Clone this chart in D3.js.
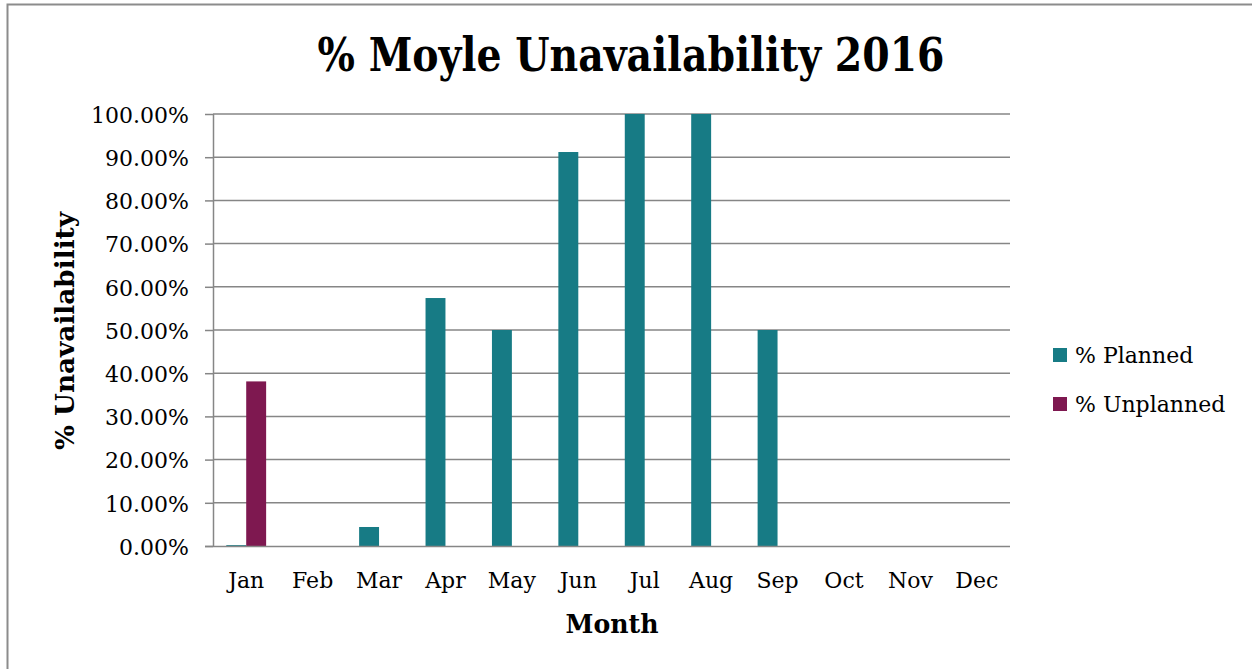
<!DOCTYPE html>
<html>
<head>
<meta charset="utf-8">
<script src="https://cdn.jsdelivr.net/npm/d3@7"></script>
<style>
  body { margin: 0; background: #fff; }
  svg text { font-family: "DejaVu Serif", "Liberation Serif", serif; fill: #000; }
</style>
</head>
<body>
<div id="chart"></div>
<script>
var months = ["Jan", "Feb", "Mar", "Apr", "May", "Jun", "Jul", "Aug", "Sep", "Oct", "Nov", "Dec"];
var planned = [0.2, 0, 4.4, 57.4, 50, 91.2, 100, 100, 50, 0, 0, 0];
var unplanned = [38.1, 0, 0, 0, 0, 0, 0, 0, 0, 0, 0, 0];
var seriesNames = ["% Planned", "% Unplanned"];
var seriesColors = ["#177b85", "#7e1850"];
var yTicks = [0, 10, 20, 30, 40, 50, 60, 70, 80, 90, 100];

function drawChart(selector) {
    var width = 1252, height = 669;

    var svg = d3.select(selector)
        .append("svg")
        .attr("width", width)
        .attr("height", height);

    // outer frame, right and bottom edges run off the page
    svg.append("rect")
        .attr("x", 7.5)
        .attr("y", 4.5)
        .attr("width", 1300)
        .attr("height", 700)
        .attr("fill", "none")
        .attr("stroke", "#8c8c8c")
        .attr("stroke-width", 2);

    var left = 213, right = 1010, top = 114, bottom = 546;

    var x = d3.scaleBand()
        .domain(months)
        .range([left, right])
        .paddingInner(0.4)
        .paddingOuter(0.2);

    var xs = d3.scaleBand()
        .domain(seriesNames)
        .range([0, x.bandwidth()]);

    var y = d3.scaleLinear()
        .domain([0, 100])
        .range([bottom, top]);

    // gridlines
    svg.append("g")
        .selectAll("line")
        .data(yTicks.slice(1))
        .enter().append("line")
        .attr("x1", left)
        .attr("x2", right)
        .attr("y1", function(d) { return y(d); })
        .attr("y2", function(d) { return y(d); })
        .attr("stroke", "#868686")
        .attr("stroke-width", 1.5);

    var data = months.map(function(m, i) {
        return { month: m, values: [planned[i], unplanned[i]] };
    });

    var groups = svg.append("g")
        .selectAll("g")
        .data(data)
        .enter().append("g")
        .attr("transform", function(d) { return "translate(" + x(d.month) + ",0)"; });

    groups.selectAll("rect")
        .data(function(d) {
            return d.values.map(function(v, j) { return { name: seriesNames[j], value: v, idx: j }; });
        })
        .enter().append("rect")
        .filter(function(d) { return d.value > 0; })
        .attr("x", function(d) { return xs(d.name); })
        .attr("y", function(d) { return y(d.value); })
        .attr("width", xs.bandwidth())
        .attr("height", function(d) { return bottom - y(d.value); })
        .attr("fill", function(d) { return seriesColors[d.idx]; });

    // y axis
    var yAxis = svg.append("g")
        .attr("transform", "translate(" + left + ",0)")
        .call(d3.axisLeft(y)
            .tickValues(yTicks)
            .tickSize(8)
            .tickPadding(16)
            .tickFormat(function(d) { return d.toFixed(2) + "%"; }));
    yAxis.select(".domain").attr("stroke", "#868686").attr("stroke-width", 1.5).attr("d", "M0.5," + top + "V" + bottom);
    yAxis.selectAll(".tick line").attr("stroke", "#868686").attr("stroke-width", 1.5);
    yAxis.selectAll(".tick text")
        .attr("font-size", 22)
        .attr("dy", "0.38em")
        .style("font-family", "DejaVu Serif");

    // x axis
    var xAxis = svg.append("g")
        .attr("transform", "translate(0," + bottom + ")")
        .call(d3.axisBottom(x).tickSize(0).tickPadding(26));
    xAxis.select(".domain").attr("stroke", "#868686").attr("stroke-width", 1.5).attr("d", "M" + (left - 8) + ",0.5H" + right);
    xAxis.selectAll(".tick text")
        .attr("font-size", 22)
        .style("font-family", "DejaVu Serif");

    // title
    svg.append("text")
        .attr("x", 631)
        .attr("y", 71)
        .attr("text-anchor", "middle")
        .attr("font-size", 46)
        .attr("font-weight", "bold")
        .attr("textLength", 627)
        .attr("lengthAdjust", "spacingAndGlyphs")
        .text("% Moyle Unavailability 2016");

    // axis titles
    svg.append("text")
        .attr("transform", "translate(74,331) rotate(-90)")
        .attr("text-anchor", "middle")
        .attr("font-size", 26)
        .attr("font-weight", "bold")
        .attr("textLength", 238)
        .attr("lengthAdjust", "spacingAndGlyphs")
        .text("% Unavailability");

    svg.append("text")
        .attr("x", 612)
        .attr("y", 633)
        .attr("text-anchor", "middle")
        .attr("font-size", 26)
        .attr("font-weight", "bold")
        .attr("textLength", 93)
        .attr("lengthAdjust", "spacingAndGlyphs")
        .text("Month");

    // legend
    var legend = svg.append("g")
        .selectAll("g")
        .data(seriesNames)
        .enter().append("g")
        .attr("transform", function(d, i) { return "translate(1053," + (348 + i * 49) + ")"; });

    legend.append("rect")
        .attr("width", 14)
        .attr("height", 14)
        .attr("fill", function(d, i) { return seriesColors[i]; });

    legend.append("text")
        .attr("x", 22)
        .attr("y", 15)
        .attr("font-size", 22)
        .text(function(d) { return d; });
}

drawChart("#chart");
</script>
</body>
</html>
